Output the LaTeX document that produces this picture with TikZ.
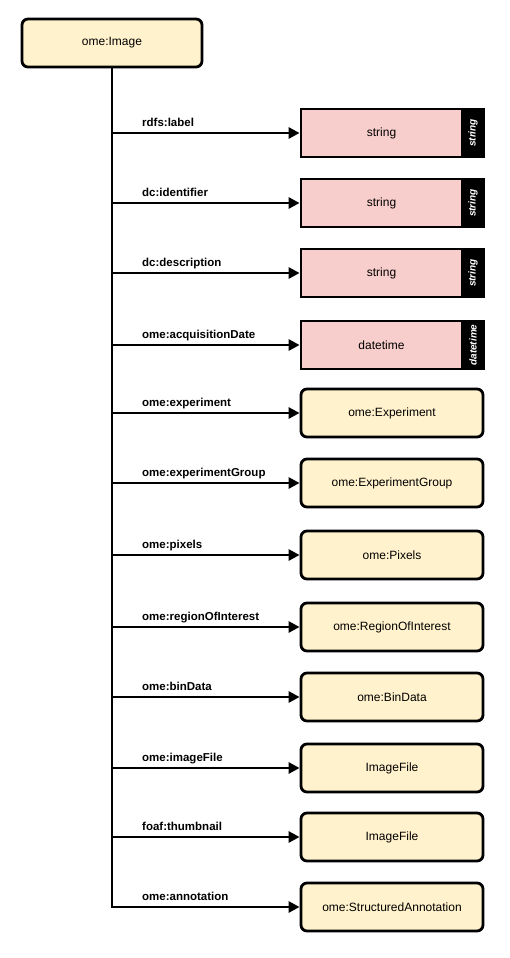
\documentclass[tikz,border=0pt]{standalone}
\usepackage{fontspec}
\setmainfont{Liberation Sans}
\usetikzlibrary{arrows.meta,positioning}
\definecolor{classyellow}{RGB}{255,242,204}
\definecolor{literalpink}{RGB}{248,206,204}
\tikzset{
    classbox/.style={rectangle, rounded corners=6pt, draw=black, fill=classyellow, line width=2.8pt, minimum width=180pt, minimum height=48pt, font=\fontsize{12}{14}\selectfont},
    literalbox/.style={rectangle, draw=black, fill=literalpink, line width=2.8pt, minimum width=161pt, minimum height=48pt, font=\fontsize{12}{14}\selectfont},
    typetag/.style={rectangle, draw=black, fill=black, line width=2.8pt, minimum width=48pt, minimum height=22pt, inner sep=0pt, rotate=90, text=white, font=\fontsize{10}{11}\selectfont\bfseries\itshape},
    prop/.style={line width=2.8pt, -{Triangle[length=11pt,width=11pt]}},
    proplabel/.style={anchor=base west, inner sep=0pt, font=\fontsize{11.5}{13}\selectfont\bfseries},
}
\begin{document}
\begin{tikzpicture}[x=1pt,y=-1pt]
    \useasboundingbox (0,0) rectangle (510,958);

    % subject
    \node[classbox] (img) at (112,43) {ome:Image};

    % literal values
    \foreach \y/\n/\prop/\type in {133/1/rdfs:label/string, 203/2/dc:identifier/string, 273/3/dc:description/string, 345/4/ome:acquisitionDate/datetime} {
        \node[literalbox] (C\n) at (381.5,\y) {\type};
        \node[typetag] (T\n) at (473,\y) {\type};
        \draw[prop] (img.south) |- (C\n.west);
        \node[proplabel] (P\n) at (142,\y-7) {\prop};
    }

    % linked resources
    \foreach \y/\n/\prop/\target in {413/5/ome:experiment/ome:Experiment, 483/6/ome:experimentGroup/ome:ExperimentGroup, 555/7/ome:pixels/ome:Pixels, 627/8/ome:regionOfInterest/ome:RegionOfInterest, 697/9/ome:binData/ome:BinData, 768/10/ome:imageFile/ImageFile, 837/11/foaf:thumbnail/ImageFile, 907/12/ome:annotation/ome:StructuredAnnotation} {
        \node[classbox, minimum width=182pt] (C\n) at (392,\y) {\target};
        \draw[prop] (img.south) |- (C\n.west);
        \node[proplabel] (P\n) at (142,\y-7) {\prop};
    }
\end{tikzpicture}
\end{document}
